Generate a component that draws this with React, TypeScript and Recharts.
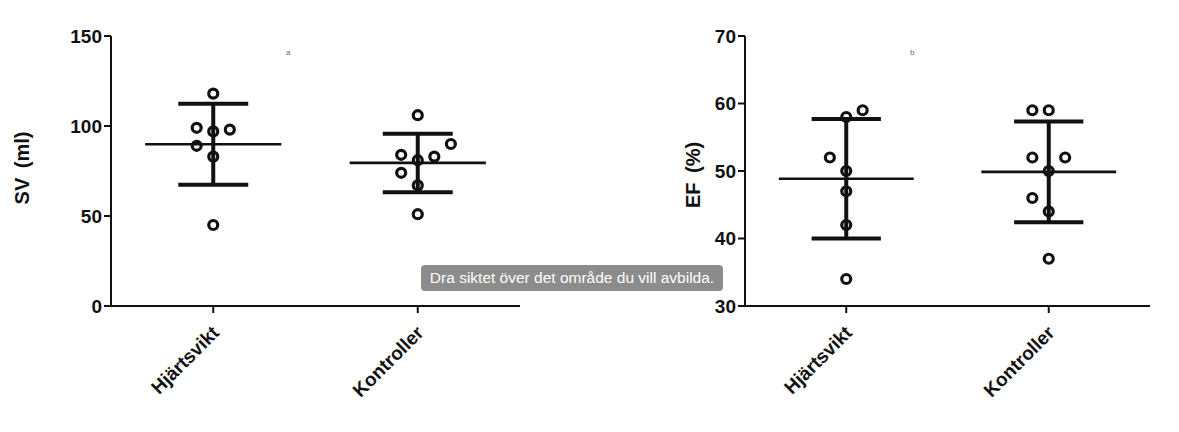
import { ComposedChart, ReferenceLine, Scatter, XAxis, YAxis } from "recharts";

const groups = ["Hjärtsvikt", "Kontroller"];

// SV (ml)
const svHjartsvikt = [118, 99, 97, 98, 89, 83, 45];
const svKontroller = [106, 90, 84, 83, 81, 74, 67, 51];
// EF (%)
const efHjartsvikt = [59, 58, 52, 50, 47, 42, 34];
const efKontroller = [59, 59, 52, 52, 50, 46, 44, 37];

// which column of the scatter each dot sits in (0 = middle, -1 left, 1 right, 2 ...)
const svHjartsviktCol = [0, -1, 0, 1, -1, 0, 0];
const svKontrollerCol = [0, 2, -1, 1, 0, -1, 0, 0];
const efHjartsviktCol = [1, 0, -1, 0, 0, 0, 0];
const efKontrollerCol = [-1, 0, -1, 1, 0, -1, 0, 0];

const svTicks = [0, 50, 100, 150];
const efTicks = [30, 40, 50, 60, 70];

const INK = "#111";
const JITTER = 0.081;
const FONT = "'Liberation Sans', Arial, Helvetica, sans-serif";

const mean = (a: number[]) => a.reduce((s, v) => s + v, 0) / a.length;
const sd = (a: number[]) => {
  const m = mean(a);
  return Math.sqrt(a.reduce((s, v) => s + (v - m) ** 2, 0) / (a.length - 1));
};

function CategoryTick({ x, y, payload }: any) {
  const name = groups[Math.round(payload.value - 0.5)];
  const tx = x + 7;
  const ty = y + 19;
  return (
    <text
      x={tx}
      y={ty}
      transform={`rotate(-45 ${tx} ${ty})`}
      textAnchor="end"
      fill={INK}
      fontSize={19}
      fontWeight={700}
    >
      {name}
    </text>
  );
}

function AxisTitle({ viewBox, text, posX, shiftY }: any) {
  const cy = viewBox.y + viewBox.height / 2 + shiftY;
  return (
    <text
      x={posX}
      y={cy}
      transform={`rotate(-90 ${posX} ${cy})`}
      textAnchor="middle"
      dominantBaseline="central"
      fill={INK}
      fontSize={20}
      fontWeight={700}
      style={{ wordSpacing: 4 }}
    >
      {text}
    </text>
  );
}

const Dot = (p: any) => (
  <circle cx={p.cx} cy={p.cy} r={4.5} fill="none" stroke={INK} strokeWidth={3.2} />
);

type PanelProps = {
  series: number[][];
  cols: number[][];
  ticks: number[];
  title: string;
  titleX: number;
  titleDy: number;
  margin: { top: number; right: number; bottom: number; left: number };
};

function Panel({ series, cols, ticks, title, titleX, titleDy, margin }: PanelProps) {
  const points = series.flatMap((vals, g) =>
    vals.map((v, i) => ({ x: g + 0.5 + cols[g][i] * JITTER, y: v }))
  );
  const axisStyle = { stroke: INK, strokeWidth: 2 };

  return (
    <ComposedChart width={560} height={432} margin={margin}>
      <XAxis
        type="number"
        dataKey="x"
        domain={[0, 2]}
        ticks={[0.5, 1.5]}
        interval={0}
        height={90}
        tickSize={7}
        tick={<CategoryTick />}
        axisLine={axisStyle}
        tickLine={axisStyle}
      />
      <YAxis
        type="number"
        dataKey="y"
        domain={[ticks[0], ticks[ticks.length - 1]]}
        ticks={ticks}
        interval={0}
        width={60}
        tickSize={7}
        tickMargin={2}
        tick={{ fill: INK, fontSize: 19, fontWeight: 700 }}
        axisLine={axisStyle}
        tickLine={axisStyle}
        label={<AxisTitle text={title} posX={titleX} shiftY={titleDy} />}
      />
      {series.map((vals, g) => {
        const c = g + 0.5;
        const m = mean(vals);
        const s = sd(vals);
        return [
          <ReferenceLine
            key={`m${g}`}
            segment={[{ x: c - 0.333, y: m }, { x: c + 0.333, y: m }]}
            stroke={INK}
            strokeWidth={2.6}
          />,
          <ReferenceLine
            key={`v${g}`}
            segment={[{ x: c, y: m - s }, { x: c, y: m + s }]}
            stroke={INK}
            strokeWidth={4}
          />,
          <ReferenceLine
            key={`u${g}`}
            segment={[{ x: c - 0.171, y: m + s }, { x: c + 0.171, y: m + s }]}
            stroke={INK}
            strokeWidth={4}
          />,
          <ReferenceLine
            key={`l${g}`}
            segment={[{ x: c - 0.171, y: m - s }, { x: c + 0.171, y: m - s }]}
            stroke={INK}
            strokeWidth={4}
          />,
        ];
      })}
      <Scatter data={points} shape={Dot} isAnimationActive={false} />
    </ComposedChart>
  );
}

export default function App() {
  return (
    <div
      style={{
        position: "absolute",
        left: 0,
        top: 0,
        width: 1179,
        height: 432,
        background: "#fff",
        fontFamily: FONT,
        overflow: "hidden",
      }}
    >
      <div style={{ position: "absolute", left: 0, top: 0 }}>
        <Panel
          series={[svHjartsvikt, svKontroller]}
          cols={[svHjartsviktCol, svKontrollerCol]}
          ticks={svTicks}
          title="SV (ml)"
          titleX={22}
          titleDy={-3}
          margin={{ top: 36, right: 40, bottom: 36, left: 51 }}
        />
      </div>
      <div style={{ position: "absolute", left: 620, top: 0 }}>
        <Panel
          series={[efHjartsvikt, efKontroller]}
          cols={[efHjartsviktCol, efKontrollerCol]}
          ticks={efTicks}
          title="EF (%)"
          titleX={73}
          titleDy={4}
          margin={{ top: 36, right: 30, bottom: 36, left: 65 }}
        />
      </div>
      <span style={{ position: "absolute", left: 286, top: 48, fontSize: 8, color: "#666" }}>a</span>
      <span style={{ position: "absolute", left: 910, top: 48, fontSize: 8, color: "#666" }}>b</span>
      <div
        style={{
          position: "absolute",
          left: 421,
          top: 265,
          width: 302,
          height: 26,
          lineHeight: "26px",
          background: "#8c8c8c",
          borderRadius: 4,
          color: "#fff",
          fontSize: 15.5,
          textAlign: "center",
          whiteSpace: "nowrap",
        }}
      >
        Dra siktet över det område du vill avbilda.
      </div>
    </div>
  );
}
